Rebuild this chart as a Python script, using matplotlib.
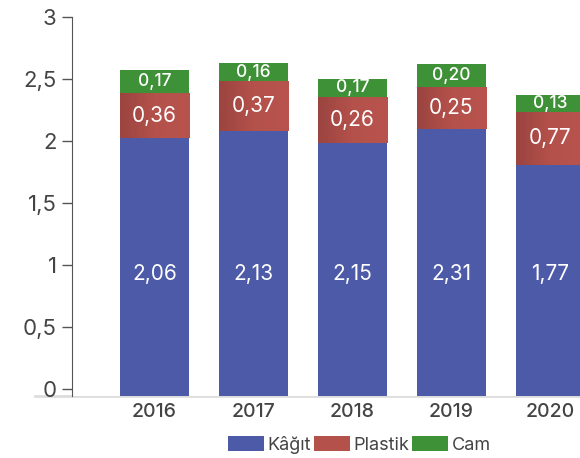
import matplotlib
matplotlib.use('Agg')
import matplotlib.pyplot as plt
import numpy as np
from matplotlib.colors import LinearSegmentedColormap

plt.rcParams['font.family'] = ['Inter', 'DejaVu Sans']

years = ['2016', '2017', '2018', '2019', '2020']
# segment heights as drawn in the picture
kagit = [2.02, 2.08, 1.985, 2.10, 1.81]
plastik = [0.37, 0.40, 0.37, 0.335, 0.425]
cam = [0.18, 0.15, 0.145, 0.185, 0.135]
# value labels as printed on the bars
kagit_lbl = ['2,06', '2,13', '2,15', '2,31', '1,77']
plastik_lbl = ['0,36', '0,37', '0,26', '0,25', '0,77']
cam_lbl = ['0,17', '0,16', '0,17', '0,20', '0,13']
yticks = [0, 0.5, 1, 1.5, 2, 2.5, 3]
ytick_lbl = ['0', '0,5', '1', '1,5', '2', '2,5', '3']

c_blue = '#4c5aa8'
c_red = '#b5514b'
c_green = '#3f9137'
floor = -0.057

fig = plt.figure(figsize=(5.8, 4.58), dpi=100)
ax = fig.add_axes([0.1241, 0.1354, 0.8759, 0.8275])

x = np.arange(len(years))
w = 0.70
b1 = np.array(kagit) - floor
ax.bar(x, b1, w, bottom=floor, color=c_blue, label='Kâğıt')
reds = ax.bar(x, plastik, w, bottom=kagit, color=c_red, label='Plastik')
top2 = np.array(kagit) + np.array(plastik)
ax.bar(x, cam, w, bottom=top2, color=c_green, label='Cam')

# darker shading on the left side of the red segments
grad = LinearSegmentedColormap.from_list('g', ['#9b4440', '#b5514b', '#b8534d'])
ramp = np.linspace(0, 1, 64).reshape(1, -1)
for r in reds:
    im = ax.imshow(ramp, cmap=grad, aspect='auto', zorder=r.get_zorder() + 0.1,
                   extent=(r.get_x(), r.get_x() + r.get_width(),
                           r.get_y(), r.get_y() + r.get_height()))
    im.set_clip_path(r)

for i in range(len(years)):
    ax.text(x[i], 0.93, kagit_lbl[i], ha='center', va='center',
            color='white', fontsize=15, zorder=5)
    ax.text(x[i], kagit[i] + plastik[i] / 2, plastik_lbl[i], ha='center', va='center',
            color='white', fontsize=15, zorder=5)
    ax.text(x[i], top2[i] + cam[i] / 2, cam_lbl[i], ha='center', va='center',
            color='white', fontsize=12.5, fontweight='medium', zorder=5)

ax.set_xlim(-0.833, 4.3)
ax.set_ylim(floor, 3)
ax.set_yticks(yticks)
ax.set_yticklabels(ytick_lbl, fontsize=16, color='#444444')
ax.set_xticks(x)
ax.set_xticklabels(years, fontsize=14, color='#444444', fontweight='medium')
ax.tick_params(axis='x', length=0, pad=5)
ax.tick_params(axis='y', length=7, width=1, color='#555555', pad=4)
for s in ['top', 'right', 'bottom']:
    ax.spines[s].set_visible(False)
ax.spines['left'].set_color('#555555')
ax.spines['left'].set_bounds(floor, 3)

# faint ground line
fig.add_artist(plt.Line2D([0.06, 1.0], [0.1354, 0.1354], color='#dddddd', lw=2,
                          transform=fig.transFigure, zorder=0))

fig.legend(loc='center', bbox_to_anchor=(0.62, 0.028), ncol=3, frameon=False,
           fontsize=13, handlelength=2.0, handleheight=0.9, handletextpad=0.2,
           columnspacing=0.15, labelcolor='#444444')

fig.savefig('out.png', dpi=100)
